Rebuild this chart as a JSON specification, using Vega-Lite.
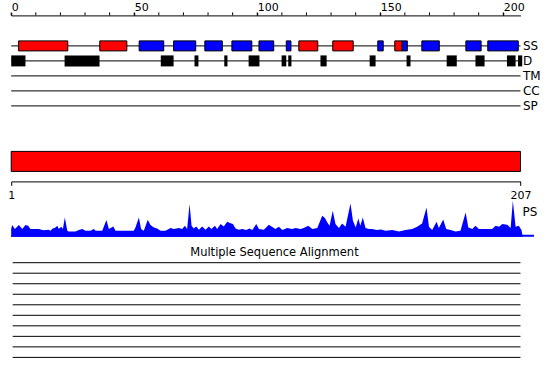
{
  "$schema": "https://vega.github.io/schema/vega-lite/v6.json",
  "padding": {"left": 7.2, "top": 1.4, "right": 4, "bottom": 0},
  "bounds": "flush",
  "spacing": 0,
  "resolve": {"scale": {"x": "independent", "y": "independent", "color": "independent"}, "axis": {"x": "independent", "y": "independent"}},
  "config": {
    "view": {"stroke": null},
    "font": "DejaVu Sans",
    "axis": {"labelFont": "DejaVu Sans", "labelColor": "black", "domainColor": "black", "tickColor": "black", "grid": false, "labelFlush": false, "labelOverlap": false}
  },
  "vconcat": [
    {
      "width": 509.3,
      "height": 3,
      "data": {"values": [{"pos": 0}, {"pos": 10}, {"pos": 20}, {"pos": 30}, {"pos": 40}, {"pos": 50}, {"pos": 60}, {"pos": 70}, {"pos": 80}, {"pos": 90}, {"pos": 100}, {"pos": 110}, {"pos": 120}, {"pos": 130}, {"pos": 140}, {"pos": 150}, {"pos": 160}, {"pos": 170}, {"pos": 180}, {"pos": 190}, {"pos": 200}]},
      "mark": {"type": "rule", "color": "black", "strokeWidth": 1},
      "encoding": {
        "x": {"field": "pos", "type": "quantitative", "scale": {"domain": [0, 207], "nice": false, "zero": false}, "axis": null}
      }
    },
    {
      "width": 509.3,
      "height": 136,
      "layer": [
        {
          "data": {"values": [{"track": "SS"}, {"track": "D"}, {"track": "TM"}, {"track": "CC"}, {"track": "SP"}]},
          "mark": {"type": "rule", "color": "black", "strokeWidth": 1},
          "encoding": {
            "x": {"datum": 0, "type": "quantitative", "scale": {"domain": [0, 207], "nice": false, "zero": false},
              "axis": {"orient": "top", "title": null, "values": [0, 50, 100, 150, 200], "labelOverlap": false, "tickSize": 3, "labelAlign": "left", "labelBaseline": "alphabetic",
                "labelPadding": 1.7, "labelFontSize": 11}},
            "x2": {"datum": 207},
            "y": {"field": "track", "type": "nominal", "scale": {"type": "point", "padding": 0, "domain": ["SS", "D", "TM", "CC", "SP"], "range": [30.5, 90.5]},
              "axis": {"orient": "right", "title": null, "ticks": false, "tickSize": 0, "domain": false, "labelPadding": 2, "labelFontSize": 12, "labelBaseline": "middle", "labelOverlap": false}}
          }
        },
        {
          "data": {"values": [
            {"start": 3, "end": 23, "ss": "helix", "track": "SS"},
            {"start": 36, "end": 47, "ss": "helix", "track": "SS"},
            {"start": 52, "end": 62, "ss": "strand", "track": "SS"},
            {"start": 66, "end": 75, "ss": "strand", "track": "SS"},
            {"start": 78.7, "end": 85.8, "ss": "strand", "track": "SS"},
            {"start": 89.7, "end": 97.8, "ss": "strand", "track": "SS"},
            {"start": 100.7, "end": 106.7, "ss": "strand", "track": "SS"},
            {"start": 111.8, "end": 113.7, "ss": "strand", "track": "SS"},
            {"start": 116.9, "end": 124.6, "ss": "helix", "track": "SS"},
            {"start": 130.7, "end": 139, "ss": "helix", "track": "SS"},
            {"start": 149, "end": 151.2, "ss": "strand", "track": "SS"},
            {"start": 155.9, "end": 158.9, "ss": "helix", "track": "SS"},
            {"start": 158.9, "end": 161, "ss": "strand", "track": "SS"},
            {"start": 166.9, "end": 174, "ss": "strand", "track": "SS"},
            {"start": 184.8, "end": 191, "ss": "strand", "track": "SS"},
            {"start": 193.7, "end": 206.1, "ss": "strand", "track": "SS"}
          ]},
          "mark": {"type": "bar", "height": 10, "stroke": "black", "strokeWidth": 1},
          "encoding": {
            "x": {"field": "start", "type": "quantitative"},
            "x2": {"field": "end"},
            "y": {"field": "track", "type": "nominal"},
            "color": {"field": "ss", "type": "nominal", "scale": {"domain": ["helix", "strand"], "range": ["#ff0000", "#0000ff"]}, "legend": null}
          }
        },
        {
          "data": {"values": [
            {"start": 0, "end": 5.8, "track": "D"},
            {"start": 21.7, "end": 35.9, "track": "D"},
            {"start": 60.8, "end": 66, "track": "D"},
            {"start": 74.5, "end": 76.1, "track": "D"},
            {"start": 86.6, "end": 87.9, "track": "D"},
            {"start": 96.5, "end": 100.9, "track": "D"},
            {"start": 109.9, "end": 111.8, "track": "D"},
            {"start": 112.6, "end": 113.9, "track": "D"},
            {"start": 125.7, "end": 128.2, "track": "D"},
            {"start": 145.7, "end": 148.1, "track": "D"},
            {"start": 160.7, "end": 162.3, "track": "D"},
            {"start": 177, "end": 181.1, "track": "D"},
            {"start": 188.7, "end": 192.4, "track": "D"},
            {"start": 201.5, "end": 205, "track": "D"},
            {"start": 206, "end": 207.7, "track": "D"}
          ]},
          "mark": {"type": "bar", "height": 11, "color": "black"},
          "encoding": {
            "x": {"field": "start", "type": "quantitative"},
            "x2": {"field": "end"},
            "y": {"field": "track", "type": "nominal"}
          }
        }
      ]
    },
    {
      "width": 509.3,
      "height": 20,
      "data": {"values": [{"start": 1, "end": 207}]},
      "mark": {"type": "rect", "fill": "#ff0000", "stroke": "black", "strokeWidth": 1},
      "encoding": {
        "x": {"field": "start", "type": "quantitative", "scale": {"domain": [1, 207], "nice": false, "zero": false},
          "axis": {"orient": "bottom", "title": null, "values": [1, 207], "offset": 10, "tickSize": 4, "labelPadding": 4.5, "labelFontSize": 11, "labelBaseline": "top"}},
        "x2": {"field": "end"}
      }
    },
    {
      "width": 509.3,
      "height": 87.3,
      "layer": [
        {
          "data": {"values": [
            {"pos":0,"score":8},{"pos":0.4,"score":11.7},{"pos":1.5,"score":7.7},{"pos":3.1,"score":11.7},{"pos":4.5,"score":7.7},
            {"pos":5.8,"score":11.7},{"pos":6.9,"score":11},{"pos":7.8,"score":7.7},{"pos":11.2,"score":7.7},{"pos":13.1,"score":6.5},
            {"pos":15.2,"score":7},{"pos":16,"score":6},{"pos":16.7,"score":8},{"pos":18,"score":9.3},{"pos":18.7,"score":11},
            {"pos":19.3,"score":8},{"pos":20.4,"score":10},{"pos":21,"score":7.7},{"pos":21.8,"score":19.3},{"pos":22.8,"score":6},
            {"pos":23.3,"score":5.3},{"pos":26.1,"score":5.3},{"pos":27.5,"score":6.7},{"pos":28.9,"score":7.7},{"pos":30.2,"score":6},
            {"pos":32.2,"score":6},{"pos":33.6,"score":7.7},{"pos":34.3,"score":6},{"pos":37,"score":6},{"pos":38.7,"score":16.7},
            {"pos":39.7,"score":7.7},{"pos":41.5,"score":10.3},{"pos":42.4,"score":6},{"pos":43.1,"score":6},{"pos":49.8,"score":6},
            {"pos":50.5,"score":9.3},{"pos":51.9,"score":19.3},{"pos":52.8,"score":7.7},{"pos":53.9,"score":6},{"pos":55.5,"score":17},
            {"pos":56.6,"score":11.7},{"pos":58,"score":9.3},{"pos":59.3,"score":8.3},{"pos":60.7,"score":6},{"pos":62.7,"score":6},
            {"pos":64.8,"score":8.7},{"pos":66.1,"score":7.7},{"pos":68.1,"score":8.7},{"pos":69.5,"score":7.7},{"pos":70.6,"score":11},
            {"pos":71.5,"score":7.7},{"pos":72.5,"score":32.7},{"pos":73.3,"score":11},{"pos":74.2,"score":8.3},{"pos":75.2,"score":10.3},
            {"pos":76.3,"score":7},{"pos":77.6,"score":10.3},{"pos":79,"score":7},{"pos":80.3,"score":10.3},{"pos":81.4,"score":7.7},
            {"pos":82.8,"score":11},{"pos":83.7,"score":7.7},{"pos":85.1,"score":12.7},{"pos":86.4,"score":10.3},{"pos":87.8,"score":15},
            {"pos":88.9,"score":13.7},{"pos":90.1,"score":12.7},{"pos":91.2,"score":8.3},{"pos":92.5,"score":7},{"pos":93.9,"score":7.7},
            {"pos":95.5,"score":6.7},{"pos":96.9,"score":8.3},{"pos":98,"score":6.7},{"pos":99.6,"score":12.7},{"pos":100.7,"score":7.7},
            {"pos":102.7,"score":7},{"pos":104.7,"score":12},{"pos":107.4,"score":7.7},{"pos":108.8,"score":10},{"pos":110.2,"score":6.7},
            {"pos":112.2,"score":8.7},{"pos":114.2,"score":7.7},{"pos":115.6,"score":8.7},{"pos":117.6,"score":7.7},{"pos":118.9,"score":8.7},
            {"pos":120.7,"score":11},{"pos":122.4,"score":7.7},{"pos":124.4,"score":8.7},{"pos":126.4,"score":21},{"pos":127.5,"score":18.7},
            {"pos":128.5,"score":14.3},{"pos":129.4,"score":11},{"pos":130.7,"score":26},{"pos":131.8,"score":12.7},{"pos":133.2,"score":8.7},
            {"pos":134.5,"score":13.3},{"pos":135.9,"score":10},{"pos":137.9,"score":33.3},{"pos":138.9,"score":16},{"pos":140,"score":9.3},
            {"pos":141.1,"score":18.3},{"pos":141.9,"score":11},{"pos":142.9,"score":19.3},{"pos":144,"score":8.7},{"pos":145.4,"score":7.7},
            {"pos":146.7,"score":7.7},{"pos":148.5,"score":6.7},{"pos":150.3,"score":7.3},{"pos":152.2,"score":6},{"pos":154.9,"score":6.7},
            {"pos":157.6,"score":5.3},{"pos":160.3,"score":6.7},{"pos":163,"score":7.7},{"pos":165,"score":10},{"pos":167,"score":13.3},
            {"pos":168.8,"score":29.3},{"pos":169.8,"score":10},{"pos":171.1,"score":6.7},{"pos":172.9,"score":15},{"pos":173.8,"score":8.7},
            {"pos":175.6,"score":17.3},{"pos":176.8,"score":7.7},{"pos":178.6,"score":6.7},{"pos":180.6,"score":5.3},{"pos":182.6,"score":6},
            {"pos":184.7,"score":24.3},{"pos":185.8,"score":9.3},{"pos":187.4,"score":7.7},{"pos":188.7,"score":11},{"pos":190.1,"score":7.7},
            {"pos":191.5,"score":7.7},{"pos":195.5,"score":7.7},{"pos":196.9,"score":11},{"pos":198.3,"score":10},{"pos":199.6,"score":12.7},
            {"pos":201.6,"score":12},{"pos":203,"score":8.7},{"pos":203.9,"score":36},{"pos":205,"score":10},{"pos":206.3,"score":11},
            {"pos":207.4,"score":6.7},{"pos":207.9,"score":0}
          ]},
          "mark": {"type": "area", "color": "#0000ff", "interpolate": "linear"},
          "encoding": {
            "x": {"field": "pos", "type": "quantitative", "scale": {"domain": [0, 207], "nice": false, "zero": false}, "axis": null},
            "y": {"field": "score", "type": "quantitative", "scale": {"domain": [-22, 65.3], "nice": false, "zero": false}, "axis": null},
            "y2": {"datum": 0}
          }
        },
        {
          "data": {"values": [{"label": "PS"}]},
          "mark": {"type": "rule", "color": "#0000ff", "strokeWidth": 2},
          "encoding": {
            "x": {"datum": 0, "type": "quantitative"},
            "x2": {"datum": 212.5},
            "y": {"datum": 1, "type": "quantitative"}
          }
        },
        {
          "data": {"values": [{"label": "PS"}]},
          "mark": {"type": "text", "align": "left", "baseline": "middle", "dx": 2, "fontSize": 12, "font": "DejaVu Sans", "color": "black"},
          "encoding": {
            "x": {"datum": 207, "type": "quantitative"},
            "y": {"datum": 25, "type": "quantitative"},
            "text": {"field": "label"}
          }
        }
      ]
    },
    {
      "width": 509.3,
      "height": 122,
      "title": {"text": "Multiple Sequence Alignment", "fontSize": 11.5, "fontWeight": "normal", "font": "DejaVu Sans", "baseline": "alphabetic", "offset": 2.3, "dy": 10.5, "dx": 8.6, "anchor": "middle", "color": "black"},
      "data": {"values": [{"seq": 1}, {"seq": 2}, {"seq": 3}, {"seq": 4}, {"seq": 5}, {"seq": 6}, {"seq": 7}, {"seq": 8}, {"seq": 9}, {"seq": 10}]},
      "mark": {"type": "rule", "color": "black", "strokeWidth": 1},
      "encoding": {
        "x": {"datum": 0.6, "type": "quantitative", "scale": {"domain": [0, 207], "nice": false, "zero": false}, "axis": null},
        "x2": {"datum": 207},
        "y": {"field": "seq", "type": "ordinal", "scale": {"type": "point", "padding": 0, "range": [3.3, 98]}, "axis": null}
      }
    }
  ]
}
